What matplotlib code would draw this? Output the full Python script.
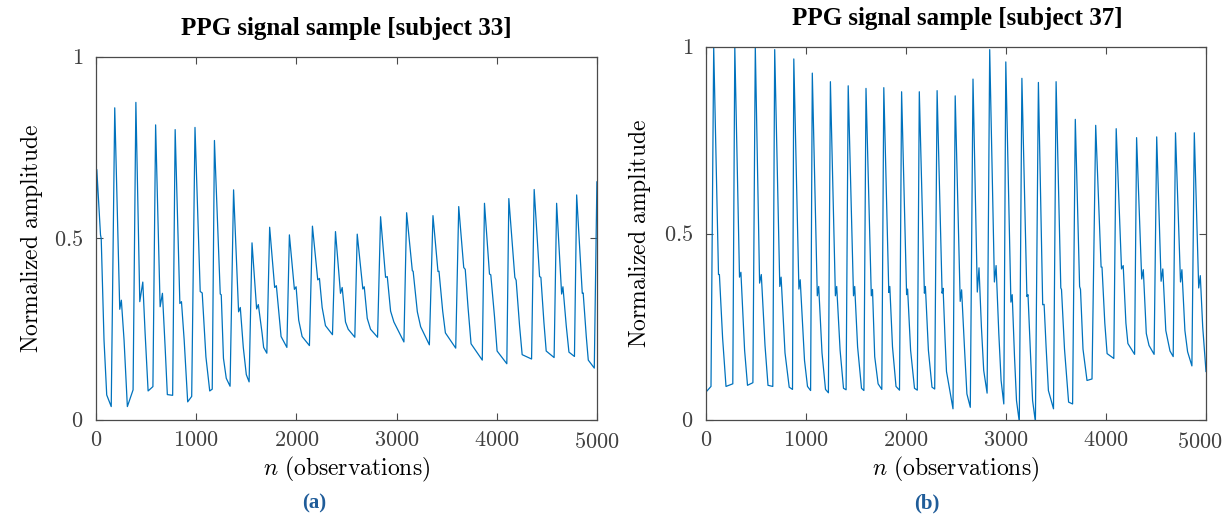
import matplotlib.pyplot as plt
from matplotlib.transforms import ScaledTranslation

plt.rcParams['mathtext.fontset'] = 'cm'
plt.rcParams['font.family'] = ['Liberation Serif', 'DejaVu Serif']

# --- subject 33: key points of each beat (sample index, normalized amplitude) ---
# up = start of upstroke, pk = systolic peak, nt = dicrotic notch,
# dc = dicrotic bump, fl = mid fall, kn = end of fast fall
s33_up_n = [0, 152, 370, 568, 765, 955, 1160, 1338, 1528, 1705, 1905, 2130, 2360,
            2583, 2810, 3073, 3327, 3590, 3855, 4100, 4347, 4572, 4775, 4973]
s33_up_v = [0.34, 0.037, 0.083, 0.092, 0.068, 0.065, 0.085, 0.093, 0.105, 0.184, 0.20, 0.205,
            0.235, 0.228, 0.228, 0.215, 0.207, 0.198, 0.165, 0.155, 0.168, 0.172, 0.175, 0.143]
s33_pk_n = [8, 187, 398, 595, 790, 988, 1182, 1373, 1557, 1733, 1930, 2160, 2390,
            2607, 2840, 3100, 3363, 3620, 3877, 4120, 4373, 4597, 4797, 4999]
s33_pk_v = [0.69, 0.86, 0.875, 0.813, 0.80, 0.806, 0.77, 0.634, 0.488, 0.531, 0.51, 0.534,
            0.519, 0.512, 0.56, 0.571, 0.563, 0.588, 0.597, 0.61, 0.635, 0.597, 0.62, 0.656]
s33_nt_n = [45, 237, 437, 640, 837, 1040, 1240, 1423, 1603, 1783, 1980, 2213, 2440,
            2663, 2890, 3157, 3413, 3670, 3927, 4180, 4427, 4647, 4853]
s33_nt_v = [0.51, 0.305, 0.326, 0.312, 0.321, 0.354, 0.347, 0.298, 0.306, 0.365, 0.36, 0.386,
            0.349, 0.361, 0.393, 0.411, 0.409, 0.42, 0.402, 0.393, 0.395, 0.347, 0.349]
s33_dc_n = [52, 253, 467, 663, 853, 1060, 1250, 1440, 1620, 1800, 1997, 2230, 2457,
            2677, 2907, 3165, 3423, 3685, 3940, 4193, 4440, 4660, 4862]
s33_dc_v = [0.50, 0.33, 0.38, 0.349, 0.326, 0.35, 0.345, 0.31, 0.318, 0.37, 0.367, 0.39,
            0.365, 0.367, 0.395, 0.41, 0.41, 0.415, 0.40, 0.385, 0.393, 0.367, 0.35]
s33_fl_n = [80, 280, 490, 690, 880, 1097, 1272, 1470, 1657, 1823, 2023, 2257, 2490,
            2707, 2940, 3207, 3460, 3713, 3977, 4227, 4470, 4693, 4893]
s33_fl_v = [0.22, 0.22, 0.24, 0.20, 0.22, 0.174, 0.17, 0.20, 0.24, 0.303, 0.275, 0.31,
            0.27, 0.28, 0.30, 0.298, 0.30, 0.31, 0.285, 0.26, 0.27, 0.26, 0.23]
s33_kn_n = [107, 313, 520, 712, 915, 1135, 1300, 1500, 1673, 1847, 2057, 2290, 2517,
            2740, 2973, 3240, 3487, 3743, 4003, 4253, 4493, 4720, 4913]
s33_kn_v = [0.069, 0.037, 0.08, 0.07, 0.05, 0.08, 0.115, 0.125, 0.20, 0.23, 0.23, 0.26,
            0.25, 0.25, 0.27, 0.257, 0.24, 0.21, 0.19, 0.18, 0.19, 0.187, 0.165]

# --- subject 37 ---
s37_head_n = [0]
s37_head_v = [0.075]
s37_up_n = [50, 268, 469, 668, 865, 1046, 1224, 1401, 1579, 1758, 1935, 2113, 2287, 2470,
            2643, 2811, 2978, 3133, 3294, 3475, 3666, 3860, 4078, 4286, 4481, 4672, 4859]
s37_up_v = [0.09, 0.097, 0.10, 0.09, 0.082, 0.079, 0.073, 0.081, 0.079, 0.082, 0.08, 0.08,
            0.083, 0.03, 0.034, 0.072, 0.043, -0.005, -0.005, 0.03, 0.043, 0.11, 0.165,
            0.176, 0.176, 0.17, 0.145]
s37_pk_n = [77, 288, 493, 687, 878, 1063, 1244, 1422, 1600, 1778, 1956, 2133, 2311, 2492,
            2670, 2837, 2998, 3159, 3324, 3501, 3693, 3897, 4102, 4306, 4507, 4695, 4883]
s37_pk_v = [1.0, 1.0, 1.0, 0.993, 0.968, 0.93, 0.907, 0.896, 0.889, 0.891, 0.88, 0.88,
            0.883, 0.869, 0.914, 0.993, 0.96, 0.916, 0.905, 0.907, 0.806, 0.79, 0.781,
            0.757, 0.759, 0.77, 0.77]
s37_nt_n = [125, 335, 536, 738, 929, 1113, 1294, 1475, 1653, 1828, 2006, 2184, 2361, 2542,
            2713, 2884, 3049, 3209, 3367, 3548, 3736, 3951, 4155, 4357, 4551, 4745, 4927]
s37_nt_v = [0.39, 0.383, 0.367, 0.358, 0.351, 0.333, 0.333, 0.333, 0.333, 0.342, 0.336, 0.34,
            0.34, 0.318, 0.343, 0.37, 0.316, 0.331, 0.309, 0.354, 0.358, 0.41, 0.405,
            0.378, 0.372, 0.37, 0.354]
s37_dc_n = [134, 349, 553, 751, 942, 1127, 1307, 1487, 1665, 1838, 2016, 2194, 2371, 2556,
            2730, 2901, 3062, 3220, 3381, 3555, 3745, 3960, 4172, 4373, 4568, 4759, 4943]
s37_dc_v = [0.39, 0.396, 0.39, 0.383, 0.376, 0.358, 0.358, 0.358, 0.35, 0.358, 0.351, 0.358,
            0.353, 0.349, 0.408, 0.414, 0.336, 0.336, 0.31, 0.35, 0.35, 0.41, 0.414,
            0.403, 0.405, 0.403, 0.387]
s37_fl_n = [166, 386, 590, 790, 985, 1160, 1341, 1516, 1687, 1865, 2046, 2224, 2391, 2586,
            2754, 2928, 3085, 3246, 3401, 3585, 3770, 3988, 4199, 4403, 4598, 4789, 4967]
s37_fl_v = [0.22, 0.187, 0.20, 0.18, 0.16, 0.18, 0.187, 0.196, 0.17, 0.196, 0.187, 0.187,
            0.214, 0.187, 0.25, 0.232, 0.17, 0.17, 0.196, 0.19, 0.19, 0.26, 0.26,
            0.232, 0.24, 0.24, 0.25]
s37_kn_n = [200, 415, 620, 832, 1015, 1195, 1375, 1555, 1721, 1900, 2085, 2260, 2405, 2609,
            2777, 2951, 3105, 3266, 3424, 3626, 3810, 4011, 4219, 4430, 4640, 4816, 4990]
s37_kn_v = [0.09, 0.093, 0.093, 0.088, 0.09, 0.082, 0.085, 0.085, 0.097, 0.09, 0.085, 0.088,
            0.13, 0.07, 0.133, 0.106, 0.052, 0.052, 0.079, 0.048, 0.106, 0.178, 0.205,
            0.20, 0.185, 0.183, 0.169]
s37_tail_n = [5000]
s37_tail_v = [0.13]


def trace(up_n, up_v, pk_n, pk_v, nt_n, nt_v, dc_n, dc_v, fl_n, fl_v, kn_n, kn_v,
          head_n=(), head_v=(), tail_n=(), tail_v=()):
    # join the beat key points in time order
    n, v = list(head_n), list(head_v)
    for i in range(len(up_n)):
        n += [up_n[i], pk_n[i]]
        v += [up_v[i], pk_v[i]]
        if i < len(nt_n):
            n += [nt_n[i], dc_n[i], fl_n[i], kn_n[i]]
            v += [nt_v[i], dc_v[i], fl_v[i], kn_v[i]]
    n += list(tail_n)
    v += list(tail_v)
    return n, v


x33, y33 = trace(s33_up_n, s33_up_v, s33_pk_n, s33_pk_v, s33_nt_n, s33_nt_v,
                 s33_dc_n, s33_dc_v, s33_fl_n, s33_fl_v, s33_kn_n, s33_kn_v)
x37, y37 = trace(s37_up_n, s37_up_v, s37_pk_n, s37_pk_v, s37_nt_n, s37_nt_v,
                 s37_dc_n, s37_dc_v, s37_fl_n, s37_fl_v, s37_kn_n, s37_kn_v,
                 s37_head_n, s37_head_v, s37_tail_n, s37_tail_v)

xticks = [0, 1000, 2000, 3000, 4000, 5000]
yticks = [0, 0.5, 1]
ytick_labels = ['0', '0.5', '1']

W, H = 1225, 514
fig = plt.figure(figsize=(W / 100, H / 100), dpi=100)
ax1 = fig.add_axes([96 / W, 1 - 420 / H, 501 / W, 363 / H])
ax2 = fig.add_axes([706 / W, 1 - 420 / H, 500 / W, 373 / H])

axis_col = '#4a4a4a'
for ax, x, y in [(ax1, x33, y33), (ax2, x37, y37)]:
    ax.plot(x, y, color='#0072BD', lw=0.9)
    ax.set_xlim(0, 5000)
    ax.set_ylim(0, 1)
    ax.set_xticks(xticks)
    ax.set_xticklabels([f'${t}$' for t in xticks])
    ax.set_yticks(yticks)
    ax.set_yticklabels([f'${t}$' for t in ytick_labels])
    ax.tick_params(direction='in', length=5, width=0.8, top=True, right=True,
                   colors=axis_col, labelsize=16, labelcolor='#404040', pad=9)
    for sp in ax.spines.values():
        sp.set_color(axis_col)
        sp.set_linewidth(0.9)
    ax.set_ylabel(r'$\mathrm{Normalized\ amplitude}$', fontsize=17, color='black')
    ax.set_xlabel(r'$n\ \mathrm{(observations)}$', fontsize=17, color='black')

# keep the last tick label of the right panel inside the figure
last = ax2.get_xticklabels()[-1]
last.set_transform(last.get_transform() + ScaledTranslation(-6 / 100, 0, fig.dpi_scale_trans))

ax1.yaxis.set_label_coords(-0.102, 0.5)
ax2.yaxis.set_label_coords(-0.106, 0.5)
ax1.xaxis.set_label_coords(0.5, -0.095)
ax2.xaxis.set_label_coords(0.5, -0.093)

fig.text(346 / W, 1 - 28 / H, 'PPG signal sample [subject 33]', ha='center', va='center',
         fontsize=18, fontweight='bold')
fig.text(957 / W, 1 - 19 / H, 'PPG signal sample [subject 37]', ha='center', va='center',
         fontsize=18, fontweight='bold')
fig.text(314 / W, 1 - 503 / H, '(a)', ha='center', va='center', fontsize=15,
         fontweight='bold', color='#1f5c99')
fig.text(927 / W, 1 - 503 / H, '(b)', ha='center', va='center', fontsize=15,
         fontweight='bold', color='#1f5c99')

fig.savefig('out.png', dpi=100)
